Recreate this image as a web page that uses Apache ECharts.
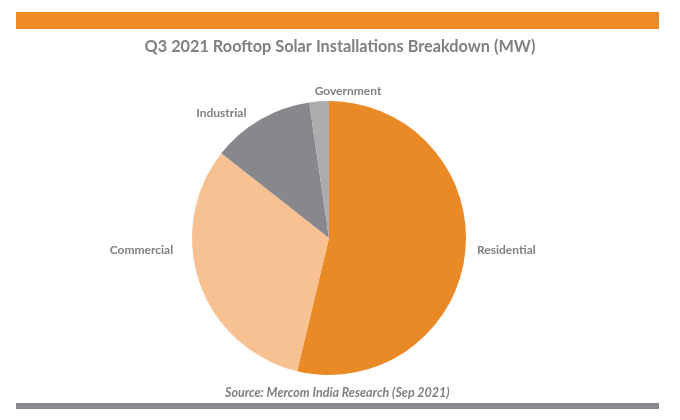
<!DOCTYPE html>
<html>
<head>
<meta charset="utf-8">
<script src="https://cdn.jsdelivr.net/npm/echarts@6/dist/echarts.min.js"></script>
<style>
  html, body { margin: 0; padding: 0; background: #fff; }
  #main { width: 680px; height: 420px; }
</style>
</head>
<body>
<div id="main"></div>
<script>
// segments, clockwise from 12 o'clock (MW)
const categories = ['Residential', 'Commercial', 'Industrial', 'Government'];
const values = [280, 166, 63, 12];
const colors = ['#EA8A26', '#F8C192', '#88888C', '#ACACAF'];

const chart = echarts.init(document.getElementById('main'));

chart.setOption({
    backgroundColor: '#fff',
    animation: false,
    title: {
        text: 'Q3 2021 Rooftop Solar Installations Breakdown (MW)',
        left: 'center',
        top: 34,
        textStyle: { color: '#808080', fontFamily: 'Lato', fontWeight: 'bold', fontSize: 16.3 }
    },
    graphic: [
        // orange band on top, grey band at the bottom
        { type: 'rect', shape: { x: 16, y: 12, width: 643, height: 17 }, style: { fill: '#EE8B24' } },
        { type: 'rect', shape: { x: 16, y: 403, width: 643, height: 6 }, style: { fill: '#8A8A8E' } },
        {
            type: 'text', left: 225, top: 386,
            style: {
                text: 'Source: Mercom India Research (Sep 2021)',
                fill: '#808080', font: 'italic bold 12.5px Lato'
            }
        }
    ],
    series: [{
        type: 'pie',
        center: [329, 238],
        radius: 137,
        startAngle: 90,
        clockwise: true,
        color: colors,
        itemStyle: { borderWidth: 0 },
        label: {
            show: true,
            position: 'outside',
            formatter: '{b}',
            color: '#808080',
            fontFamily: 'Lato',
            fontWeight: 'bold',
            fontSize: 12
        },
        labelLine: { show: false, length: 10, length2: 0 },
        // nudge labels to where the original chart placed them
        labelLayout: function (p) {
            switch (p.dataIndex) {
                case 0: return { dx: -3, dy: -5 };
                case 1: return { dx: -12, dy: -36 };
                case 2: return { dx: -4, dy: 2 };
                case 3: return { dx: 68, dy: 0 };
            }
        },
        data: categories.map((c, i) => ({ name: c, value: values[i] }))
    }]
});
</script>
</body>
</html>
